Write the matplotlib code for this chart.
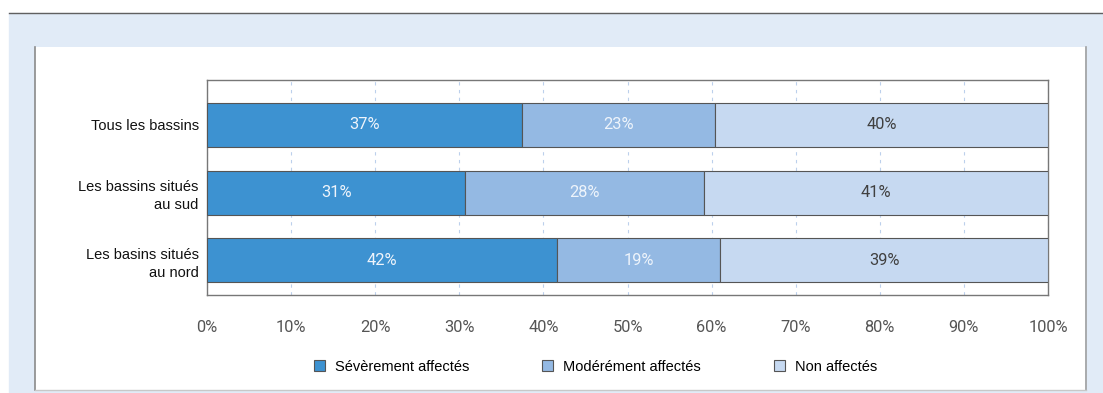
import numpy as np
import matplotlib.pyplot as plt
from matplotlib.patches import Rectangle

plt.rcParams['font.family'] = ['Liberation Sans', 'DejaVu Sans']

# data
groups = ['Tous les bassins', 'Les bassins situés\nau sud', 'Les basins situés\nau nord']
severe = [37.4, 30.7, 41.6]
moderate = [23.0, 28.4, 19.4]
none_aff = [39.6, 40.9, 39.0]
series_names = ['Sévèrement affectés', 'Modérément affectés', 'Non affectés']
colors = ['#3d92d1', '#94b9e3', '#c6d9f1']
text_colors = ['#eef4fb', '#eef4fb', '#404040']
ticks = np.arange(0, 101, 10)

W, H = 1103, 393
fig = plt.figure(figsize=(W / 100, H / 100), dpi=100)

# frame / background decoration
def px(x, y, w, h):
    return (x / W, 1 - (y + h) / H, w / W, h / H)

x0, y0, w0, h0 = px(9, 13, W - 9, H - 13)
fig.patches.append(Rectangle((x0, y0), w0, h0, transform=fig.transFigure, color='#e1ebf7', zorder=-3))
x0, y0, w0, h0 = px(35, 47, 1050, 343)
fig.patches.append(Rectangle((x0, y0), w0, h0, transform=fig.transFigure, facecolor='white',
                             lw=0, zorder=-2))
fig.add_artist(plt.Line2D([9 / W, 1], [1 - 12.5 / H] * 2, color='#606060', lw=1.0))
fig.add_artist(plt.Line2D([34.5 / W] * 2, [1 - 47 / H, 1 - 390 / H], color='#8a8a8a', lw=1.2))
fig.add_artist(plt.Line2D([1085.5 / W] * 2, [1 - 47 / H, 1 - 390 / H], color='#a0a0a0', lw=1.2))
fig.add_artist(plt.Line2D([34.5 / W, 1085.5 / W], [1 - 390 / H] * 2, color='#c8c8c8', lw=1.0))

ax = fig.add_axes([207 / W, 1 - 295 / H, (1048 - 207) / W, (295 - 80) / H])
ax.set_facecolor('white')

y = np.arange(len(groups))
left = np.zeros(len(groups))
for vals, name, col, tcol in zip([severe, moderate, none_aff], series_names, colors, text_colors):
    vals = np.array(vals)
    bars = ax.barh(y, vals, left=left, height=0.65, color=col, edgecolor='#555555', lw=0.8,
                   label=name, zorder=3)
    for b, v in zip(bars, vals):
        ax.text(b.get_x() + b.get_width() / 2, b.get_y() + b.get_height() / 2, f'{v:.0f}%',
                ha='center', va='center', color=tcol, fontsize=11.8, family=['Roboto', 'DejaVu Sans'],
                zorder=4)
    left += vals

ax.set_xlim(0, 100)
ax.set_ylim(2.51, -0.664)
ax.set_yticks(y)
ax.set_yticklabels(groups, fontsize=10.5, color='#111111', linespacing=1.35, multialignment='right')
ax.set_xticks(ticks)
ax.set_xticklabels([f'{t}%' for t in ticks], fontsize=11.8, color='#555555',
                   family=['Roboto', 'DejaVu Sans'])
ax.tick_params(axis='both', length=0)
ax.tick_params(axis='x', pad=18)
ax.tick_params(axis='y', pad=6)
ax.grid(axis='x', color='#bcd0ec', ls=(0, (3, 4)), lw=0.8, zorder=1)
for s in ax.spines.values():
    s.set_color('#777777')
    s.set_linewidth(1.0)

ax.legend(loc='upper center', bbox_to_anchor=(0.462, -0.24), ncol=3, frameon=False,
          fontsize=10.5, handlelength=0.75, handleheight=0.75, columnspacing=5.0, handletextpad=0.7)

fig.savefig('out.png', dpi=100)
